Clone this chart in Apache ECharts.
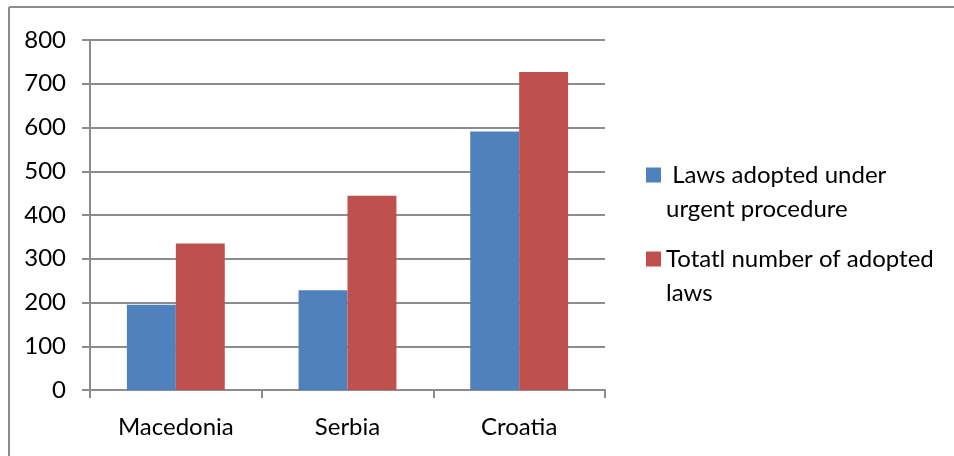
<!DOCTYPE html>
<html>
<head>
<meta charset="utf-8">
<script src="https://cdn.jsdelivr.net/npm/echarts@6/dist/echarts.min.js"></script>
<style>
  html, body { margin: 0; padding: 0; background: #fff; }
  #main { width: 954px; height: 456px; }
</style>
</head>
<body>
<div id="main"></div>
<script>
var countries = ["Macedonia", "Serbia", "Croatia"];
var urgentLaws = [195, 228, 591];
var totalLaws = [335, 444, 727];
var yTicks = [0, 800, 100]; // min, max, interval
var seriesNames = [" Laws adopted under\nurgent procedure", "Totatl number of adopted\nlaws"];

var myChart = echarts.init(document.getElementById("main"));

// square sitting at the top of a taller box, so it lines up with the first text line
var topSquare = "path://M0,0L15,0L15,15L0,15Z M0,49L0.01,49";

var option = {
  backgroundColor: "#fff",
  animation: false,
  textStyle: { fontFamily: "Lato" },
  grid: { left: 90, right: 349, top: 40, bottom: 66 },
  xAxis: {
    type: "category",
    data: countries,
    axisLine: { lineStyle: { color: "#8c8c8c", width: 2 } },
    axisTick: { show: true, length: 8, lineStyle: { color: "#8c8c8c", width: 2 } },
    axisLabel: { color: "#000", fontSize: 24, margin: 25, fontFamily: "Lato" }
  },
  yAxis: {
    type: "value",
    min: yTicks[0],
    max: yTicks[1],
    interval: yTicks[2],
    axisLine: { show: true, lineStyle: { color: "#8c8c8c", width: 2 } },
    axisTick: { show: true, length: 8, lineStyle: { color: "#8c8c8c", width: 2 } },
    axisLabel: { color: "#000", fontSize: 24, margin: 24, fontFamily: "Lato" },
    splitLine: { lineStyle: { color: "#8c8c8c", width: 2 } }
  },
  legend: {
    orient: "vertical",
    left: 646,
    top: 158,
    padding: 0,
    itemWidth: 15,
    itemHeight: 49,
    itemGap: 16,
    icon: topSquare,
    textStyle: {
      fontSize: 24,
      color: "#000",
      lineHeight: 34,
      fontFamily: "Lato"
    },
    data: seriesNames
  },
  series: [
    {
      name: seriesNames[0],
      type: "bar",
      data: urgentLaws,
      barGap: "0%",
      barCategoryGap: "43%",
      itemStyle: { color: "#4f81bd" }
    },
    {
      name: seriesNames[1],
      type: "bar",
      data: totalLaws,
      itemStyle: { color: "#c0504d" }
    }
  ],
  graphic: [
    { type: "line", shape: { x1: 9, y1: 7, x2: 954, y2: 7 }, style: { stroke: "#8c8c8c", lineWidth: 2 } },
    { type: "line", shape: { x1: 9, y1: 7, x2: 9, y2: 456 }, style: { stroke: "#8c8c8c", lineWidth: 2 } }
  ]
};

myChart.setOption(option);
</script>
</body>
</html>
